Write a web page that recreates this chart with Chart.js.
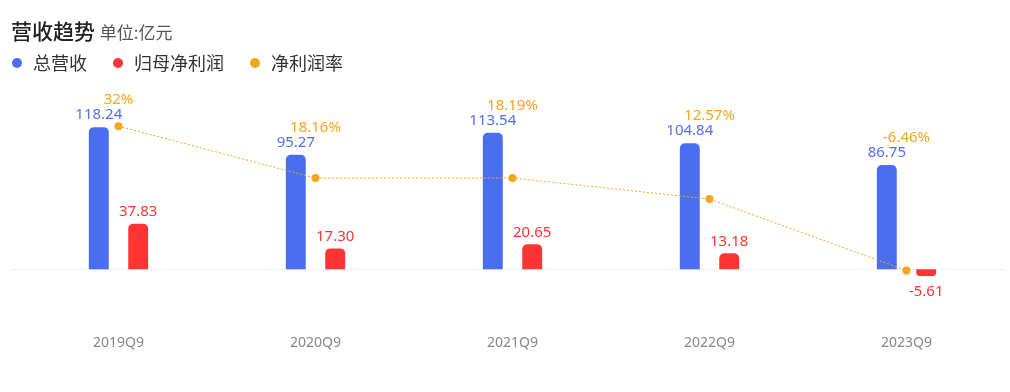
<!DOCTYPE html>
<html>
<head>
<meta charset="utf-8">
<script src="https://cdn.jsdelivr.net/npm/chart.js@4"></script>
<style>
  body { margin: 0; background: #fff; font-family: "Noto Sans CJK SC", "Noto Sans", sans-serif; }
  #wrap { position: relative; width: 1010px; height: 392px; }
  #chart { position: absolute; left: 0; top: 0; }
  .title { position: absolute; left: 11px; top: 15px; font-size: 21px; color: #222; font-weight: 500; white-space: nowrap; }
  .title span { font-size: 17px; color: #555; font-weight: 400; }
  .legend { position: absolute; top: 49px; left: 12px; font-size: 18px; color: #333; white-space: nowrap; }
  .legend i { display: inline-block; width: 10px; height: 10px; border-radius: 50%; margin-right: 11px; vertical-align: 2px; }
  .legend b { font-weight: 400; margin-right: 22px; }
</style>
</head>
<body>
<div id="wrap">
  <canvas id="chart" width="1010" height="392"></canvas>
  <div class="title">营收趋势 <span>单位:亿元</span></div>
  <div class="legend">
    <i style="background:#4a6ef2"></i><b>总营收</b>
    <i style="background:#ff3535"></i><b>归母净利润</b>
    <i style="background:#f7a51c"></i><b>净利润率</b>
  </div>
</div>
<script>
// 数据
const categories = ["2019Q9", "2020Q9", "2021Q9", "2022Q9", "2023Q9"];
const revenue = [118.24, 95.27, 113.54, 104.84, 86.75];
const netProfit = [37.83, 17.30, 20.65, 13.18, -5.61];
const netMargin = [32, 18.16, 18.19, 12.57, -6.46];

const blue = "#4a6ef2";
const red = "#ff3535";
const orange = "#f7a51c";

// 数值标签
const labelPlugin = {
  id: "valueLabels",
  afterDatasetsDraw(chart) {
    const ctx = chart.ctx;
    const blueMeta = chart.getDatasetMeta(0);
    const redMeta = chart.getDatasetMeta(1);
    ctx.save();
    ctx.font = '15px "Noto Sans", "Noto Sans CJK SC", sans-serif';
    ctx.textAlign = "center";
    ctx.textBaseline = "middle";

    blueMeta.data.forEach((bar, i) => {
      ctx.fillStyle = "#5070f0";
      ctx.fillText(revenue[i].toFixed(2), bar.x, bar.y - 12);
      // 净利润率标签放在总营收标签上方
      ctx.fillStyle = orange;
      const cx = chart.scales.x.getPixelForValue(i);
      ctx.fillText(netMargin[i] + "%", cx, bar.y - 27);
    });

    redMeta.data.forEach((bar, i) => {
      ctx.fillStyle = red;
      const v = netProfit[i];
      if (v >= 0) {
        ctx.fillText(v.toFixed(2), bar.x, bar.y - 12);
      } else {
        ctx.fillText(v.toFixed(2), bar.x, bar.y + 16);
      }
    });
    ctx.restore();
  }
};

// 零线从左侧边缘开始
const zeroLinePlugin = {
  id: "zeroLine",
  beforeDatasetsDraw(chart) {
    const ctx = chart.ctx;
    const y = Math.round(chart.scales.y.getPixelForValue(0)) + 0.5;
    ctx.save();
    ctx.strokeStyle = "#f0f0f0";
    ctx.lineWidth = 1;
    ctx.beginPath();
    ctx.moveTo(11, y);
    ctx.lineTo(chart.chartArea.right, y);
    ctx.stroke();
    ctx.restore();
  }
};

new Chart(document.getElementById("chart"), {
  data: {
    labels: categories,
    datasets: [
      {
        type: "bar",
        label: "总营收",
        data: revenue,
        backgroundColor: blue,
        categoryPercentage: 0.4,
        barPercentage: 0.506,
        borderRadius: 5,
        borderSkipped: "start",
        yAxisID: "y",
        order: 1
      },
      {
        type: "bar",
        label: "归母净利润",
        data: netProfit,
        backgroundColor: red,
        categoryPercentage: 0.4,
        barPercentage: 0.506,
        borderRadius: 5,
        borderSkipped: "start",
        yAxisID: "y",
        order: 1
      },
      {
        type: "line",
        label: "净利润率",
        data: netMargin,
        borderColor: orange,
        borderWidth: 1,
        borderDash: [2, 2],
        pointRadius: 4,
        pointBackgroundColor: orange,
        pointBorderWidth: 0,
        tension: 0,
        yAxisID: "y1",
        order: 0
      }
    ]
  },
  options: {
    responsive: false,
    animation: false,
    layout: { padding: { top: 101, left: 20, right: 5, bottom: 24 } },
    plugins: {
      legend: { display: false },
      tooltip: { enabled: false }
    },
    scales: {
      x: {
        grid: { display: false, drawTicks: false },
        border: { display: false },
        ticks: {
          color: "#888",
          padding: 17,
          font: { size: 14, family: '"Noto Sans", sans-serif' }
        }
      },
      y: {
        min: -40,
        max: 140,
        ticks: { display: false, stepSize: 20 },
        border: { display: false },
        grid: { display: false, drawTicks: false }
      },
      y1: {
        display: false,
        position: "right",
        min: -18.9,
        max: 38.7
      }
    }
  },
  plugins: [zeroLinePlugin, labelPlugin]
});
</script>
</body>
</html>
